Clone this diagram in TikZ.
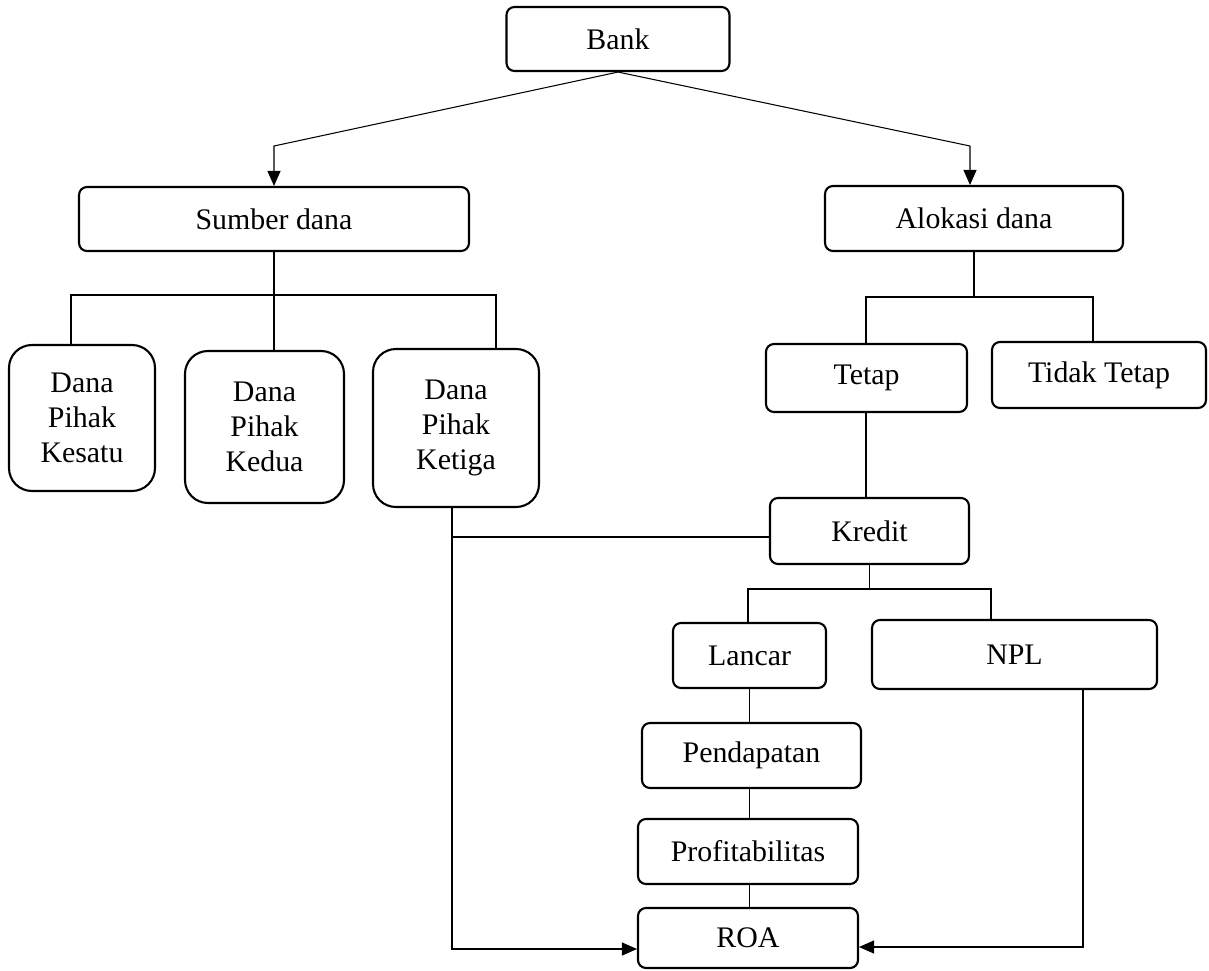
\documentclass[tikz,border=0pt]{standalone}
\usepackage{fontspec}
\setmainfont{Liberation Serif}
\usepackage{tikz}
\usetikzlibrary{positioning,arrows.meta}
\tikzset{
  box/.style  = {draw, rounded corners=4.5pt, line width=1.2pt, align=center,
                 inner sep=2pt},
  dana/.style = {box, rounded corners=13pt},
  ln/.style   = {line width=0.6pt},
  ar/.style   = {-{Triangle[length=3mm, width=2.6mm]}, line width=0.6pt},
}
\begin{document}
\begin{tikzpicture}[x=0.02cm, y=-0.02cm, font=\fontsize{17}{20}\selectfont]
\useasboundingbox (0,0) rectangle (1209,970);

\node[box, minimum width=4.46cm, minimum height=1.28cm] (bank) at (618,39) {Bank};

\node[box, minimum width=7.80cm, minimum height=1.28cm] (sumber) at (274,219) {Sumber dana};
\node[box, minimum width=5.96cm, minimum height=1.30cm] (alokasi) at (974,218.5) {Alokasi dana};

\node[dana, minimum width=2.92cm, minimum height=2.92cm] (kesatu) at (82,418)
     {Dana\\Pihak\\Kesatu};
\node[dana, minimum width=3.18cm, minimum height=3.04cm] (kedua) at (264.5,427)
     {Dana\\Pihak\\Kedua};
\node[dana, minimum width=3.32cm, minimum height=3.16cm] (ketiga) at (456,428)
     {Dana\\Pihak\\Ketiga};

\node[box, minimum width=4.02cm, minimum height=1.36cm] (tetap) at (866.5,378) {Tetap};
\node[box, minimum width=4.28cm, minimum height=1.32cm] (tidak) at (1099,375) {Tidak Tetap};

\node[box, minimum width=3.98cm, minimum height=1.32cm] (kredit) at (869.5,531) {Kredit};

\node[box, minimum width=3.06cm, minimum height=1.30cm] (lancar) at (749.5,655.5) {Lancar};
\node[box, minimum width=5.70cm, minimum height=1.38cm] (npl) at (1014.5,654.5) {NPL};

\node[box, minimum width=4.38cm, minimum height=1.30cm] (pendapatan) at (751.5,755.5) {Pendapatan};
\node[box, minimum width=4.40cm, minimum height=1.30cm] (profit) at (748,851.5) {Profitabilitas};
\node[box, minimum width=4.40cm, minimum height=1.20cm] (roa) at (748,938) {ROA};

\coordinate (sl) at (274,146);
\coordinate (sr) at (970,146);
\draw[ar] (bank.south) -- (sl) -- (sumber.north -| sl);
\draw[ar] (bank.south) -- (sr) -- (alokasi.north -| sr);

\coordinate (s1) at (71,295);
\coordinate (s2) at (496,295);
\draw[ln] (sumber.south) -- (kedua.north -| sumber.south);
\draw[ln] (kesatu.north -| s1) -- (s1) -- (s2) -- (ketiga.north -| s2);

\coordinate (a1) at (866,297);
\coordinate (a2) at (1093,297);
\draw[ln] (alokasi.south) -- (alokasi.south |- a1);
\draw[ln] (tetap.north -| a1) -- (a1) -- (a2) -- (tidak.north -| a2);
\draw[ln] (tetap.south -| a1) -- (kredit.north -| a1);

\coordinate (k1) at (748,589);
\coordinate (k2) at (991,589);
\draw[ln] (kredit.south) -- (kredit.south |- k1);
\draw[ln] (lancar.north -| k1) -- (k1) -- (k2) -- (npl.north -| k2);
\foreach \a/\b in {lancar/pendapatan, pendapatan/profit, profit/roa}{\draw[ln] (\a.south -| lancar) -- (\b.north -| lancar);}

\coordinate (l1) at (452,949);
\coordinate (kl) at (452,537);
\draw[ar] (ketiga.south -| l1) -- (l1) -- (roa.west |- l1);
\draw[ln] (kredit.west |- kl) -- (kl);

\coordinate (r1) at (1083,947);
\draw[ar] (npl.south -| r1) -- (r1) -- (roa.east |- r1);
\end{tikzpicture}
\end{document}
